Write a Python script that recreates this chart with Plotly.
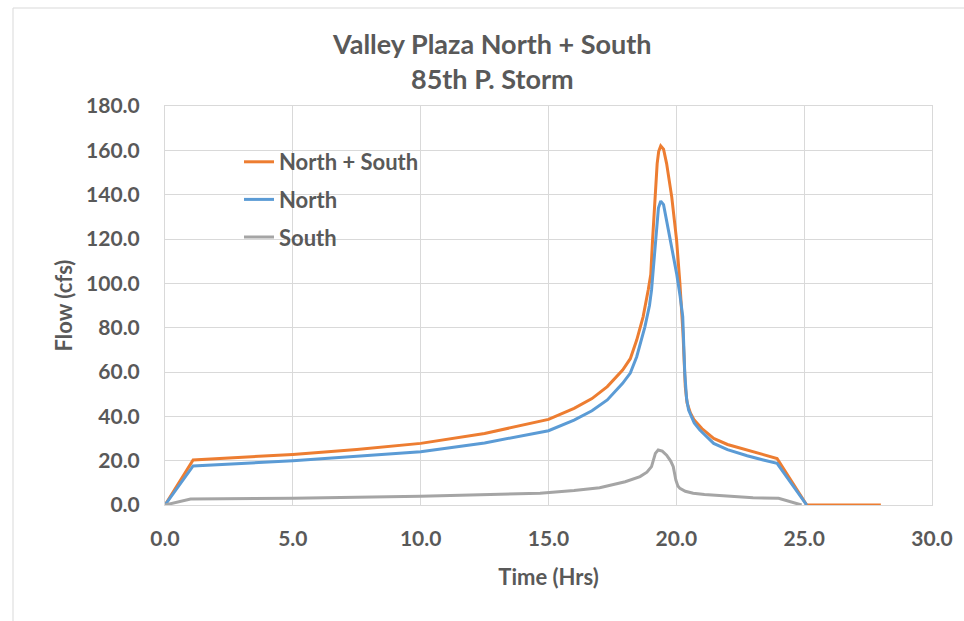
import plotly.graph_objects as go

# ---- data ----
t_ns = [0.0, 1.1, 5.0, 7.5, 10.0, 12.5, 15.0, 16.0, 16.7, 17.3, 17.9, 18.2, 18.45, 18.7, 18.9, 19.0,
        19.07, 19.12, 19.16, 19.2, 19.25, 19.31, 19.39, 19.5, 19.62, 19.82, 20.01, 20.14, 20.26, 20.35,
        20.42, 20.55, 20.7, 21.0, 21.46, 22.0, 22.77, 23.4, 23.94, 25.1, 28.0]
ns = [0.0, 20.3, 22.8, 25.0, 27.8, 32.3, 38.6, 43.6, 48.0, 53.4, 60.9, 66.0, 74.4, 84.9, 97.0, 104.0,
      119.5, 130.0, 139.0, 147.0, 154.0, 159.5, 162.0, 160.5, 154.0, 139.0, 119.5, 100.0, 77.6, 53.4,
      46.0, 41.5, 38.3, 34.5, 30.0, 27.3, 24.8, 22.8, 21.0, 0.0, 0.0]

t_n = [0.0, 1.1, 5.0, 7.5, 10.0, 12.5, 15.0, 16.0, 16.7, 17.3, 17.9, 18.2, 18.45, 18.77, 18.95, 19.03,
       19.12, 19.18, 19.23, 19.3, 19.39, 19.5, 19.69, 19.85, 20.01, 20.15, 20.25, 20.33, 20.4,
       20.48, 20.7, 20.92, 21.46, 22.0, 22.77, 23.4, 23.94, 25.1]
north = [0.0, 17.6, 20.0, 21.9, 24.0, 28.0, 33.5, 38.3, 42.5, 47.4, 54.9, 59.5, 66.9, 80.4, 90.0, 97.0,
         109.0, 119.0, 127.0, 134.0, 137.1, 135.5, 124.0, 115.0, 104.5, 94.0, 85.0, 59.5, 48.0,
         42.8, 37.0, 33.8, 27.8, 25.0, 22.2, 20.3, 18.8, 0.0]

t_s = [0.0, 1.0, 5.0, 10.0, 14.67, 16.0, 17.0, 17.5, 18.0, 18.58, 18.85, 19.03, 19.12, 19.18,
       19.29, 19.45, 19.62, 19.78, 19.88, 19.98, 20.06, 20.14, 20.35, 20.66, 21.1, 21.6, 22.1,
       23.0, 24.0, 24.9]
south = [0.0, 2.7, 3.0, 4.0, 5.3, 6.5, 7.8, 9.0, 10.5, 12.8, 14.8, 17.3, 20.5, 23.3,
         24.8, 24.3, 22.5, 19.8, 17.3, 11.3, 8.6, 7.5, 6.2, 5.3, 4.7, 4.3, 3.7,
         3.3, 3.0, 0.0]

x_ticks = [0, 5, 10, 15, 20, 25, 30]
y_ticks = [0, 20, 40, 60, 80, 100, 120, 140, 160, 180]

FONT = "Lato"
GREY = "#595959"

fig = go.Figure()
fig.add_trace(go.Scatter(x=t_ns, y=ns, mode="lines", name="North + South",
                         line=dict(color="#ED7D31", width=3), legendgroup="a"))
fig.add_trace(go.Scatter(x=t_n, y=north, mode="lines", name="North",
                         line=dict(color="#5B9BD5", width=3), legendgroup="b"))
fig.add_trace(go.Scatter(x=t_s, y=south, mode="lines", name="South",
                         line=dict(color="#A5A5A5", width=3), legendgroup="c"))

L, R, T, B = 165, 32, 106, 116
W, H = 964, 621
pw, ph = W - L - R, H - T - B

def px_x(p):
    return (p - L) / pw

def px_y(p):
    return (H - B - p) / ph

fig.update_layout(
    width=W, height=H,
    margin=dict(l=L, r=R, t=T, b=B),
    paper_bgcolor="white", plot_bgcolor="white",
    font=dict(family=FONT, color=GREY, size=21),
    showlegend=True,
    legend=dict(x=px_x(239), y=px_y(141), xanchor="left", yanchor="top",
                bgcolor="rgba(0,0,0,0)", traceorder="grouped", tracegroupgap=6,
                font=dict(family=FONT, size=22, color=GREY, weight="bold"),
                itemwidth=30),
    xaxis=dict(range=[0, 30], tickvals=x_ticks, ticktext=[f"{v:.1f}" for v in x_ticks],
               showgrid=True, gridcolor="#d9d9d9", gridwidth=1,
               showline=True, linecolor="#d9d9d9", linewidth=1, mirror=True,
               zeroline=False, ticks="", ticklabelstandoff=15,
               tickfont=dict(family=FONT, size=21, color=GREY, weight="bold"),
               title=dict(text="Time (Hrs)", standoff=20,
                          font=dict(family=FONT, size=22, color=GREY, weight="bold"))),
    yaxis=dict(range=[0, 180], tickvals=y_ticks, ticktext=[f"{v:.1f}" for v in y_ticks],
               showgrid=True, gridcolor="#d9d9d9", gridwidth=1,
               showline=True, linecolor="#d9d9d9", linewidth=1, mirror=True,
               zeroline=False, ticks="", ticklabelstandoff=20,
               tickfont=dict(family=FONT, size=21, color=GREY, weight="bold"),
               title=dict(text="Flow (cfs)", standoff=7,
                          font=dict(family=FONT, size=22, color=GREY, weight="bold"))),
    annotations=[
        dict(text="Valley Plaza North + South", x=px_x(492), y=px_y(44), xref="paper", yref="paper",
             showarrow=False, xanchor="center", yanchor="middle",
             font=dict(family=FONT, size=27, color=GREY, weight="bold")),
        dict(text="85th P. Storm", x=px_x(492), y=px_y(78), xref="paper", yref="paper",
             showarrow=False, xanchor="center", yanchor="middle",
             font=dict(family=FONT, size=27, color=GREY, weight="bold")),
    ],
    shapes=[
        dict(type="line", xref="paper", yref="paper", x0=px_x(13), x1=px_x(990),
             y0=px_y(8), y1=px_y(8), line=dict(color="#d9d9d9", width=1)),
        dict(type="line", xref="paper", yref="paper", x0=px_x(13), x1=px_x(13),
             y0=px_y(8), y1=px_y(640), line=dict(color="#d9d9d9", width=1)),
    ],
)

fig.write_html("out.html", config={"displayModeBar": False},
               post_script="document.body.style.margin='0';")
